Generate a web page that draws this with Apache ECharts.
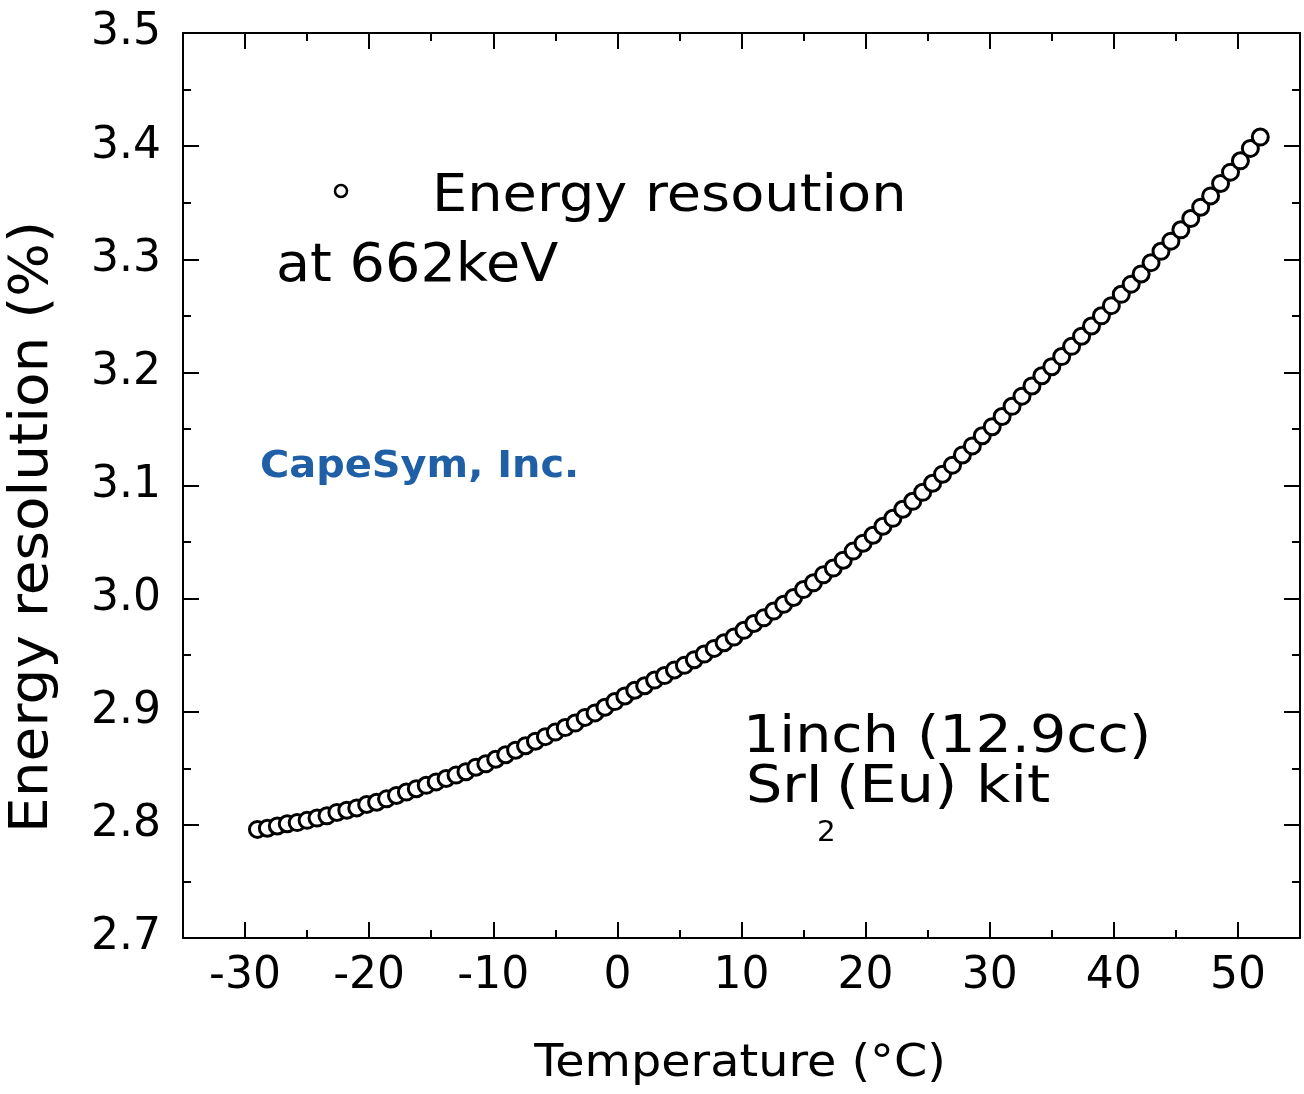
<!DOCTYPE html>
<html>
<head>
<meta charset="utf-8">
<script src="https://cdn.jsdelivr.net/npm/echarts@6/dist/echarts.min.js"></script>
<style>
  html, body { margin: 0; padding: 0; background: #fff; }
  #main { width: 1304px; height: 1094px; }
</style>
</head>
<body>
<div id="main"></div>
<script>
// temperature (degC) of each marker
var temps = [
  -29.0, -28.2, -27.4, -26.6, -25.8, -25.0, -24.2, -23.4, -22.6, -21.8,
  -21.0, -20.2, -19.4, -18.6, -17.8, -17.0, -16.2, -15.4, -14.6, -13.8,
  -13.0, -12.2, -11.4, -10.6, -9.8, -9.0, -8.2, -7.4, -6.6, -5.8,
  -5.0, -4.2, -3.4, -2.6, -1.8, -1.0, -0.2, 0.6, 1.4, 2.2,
  3.0, 3.8, 4.6, 5.4, 6.2, 7.0, 7.8, 8.6, 9.4, 10.2,
  11.0, 11.8, 12.6, 13.4, 14.2, 15.0, 15.8, 16.6, 17.4, 18.2,
  19.0, 19.8, 20.6, 21.4, 22.2, 23.0, 23.8, 24.6, 25.4, 26.2,
  27.0, 27.8, 28.6, 29.4, 30.2, 31.0, 31.8, 32.6, 33.4, 34.2,
  35.0, 35.8, 36.6, 37.4, 38.2, 39.0, 39.8, 40.6, 41.4, 42.2,
  43.0, 43.8, 44.6, 45.4, 46.2, 47.0, 47.8, 48.6, 49.4, 50.2,
  51.0, 51.8
];
// energy resolution (%) at 662keV
var resolution = [
  2.796, 2.797, 2.799, 2.801, 2.802, 2.804, 2.806, 2.808, 2.811, 2.813,
  2.815, 2.818, 2.820, 2.823, 2.826, 2.829, 2.832, 2.835, 2.838, 2.841,
  2.844, 2.847, 2.851, 2.854, 2.858, 2.862, 2.866, 2.870, 2.874, 2.878,
  2.882, 2.886, 2.890, 2.895, 2.899, 2.904, 2.909, 2.914, 2.919, 2.923,
  2.928, 2.932, 2.937, 2.941, 2.946, 2.951, 2.956, 2.961, 2.966, 2.972,
  2.978, 2.983, 2.989, 2.995, 3.001, 3.008, 3.014, 3.021, 3.027, 3.034,
  3.042, 3.049, 3.056, 3.064, 3.071, 3.079, 3.086, 3.094, 3.102, 3.110,
  3.118, 3.127, 3.135, 3.144, 3.152, 3.161, 3.170, 3.179, 3.188, 3.197,
  3.205, 3.214, 3.223, 3.232, 3.241, 3.250, 3.259, 3.269, 3.278, 3.287,
  3.297, 3.307, 3.316, 3.326, 3.336, 3.346, 3.356, 3.367, 3.377, 3.387,
  3.398, 3.408
];
var xMajor = [-30, -20, -10, 0, 10, 20, 30, 40, 50];
var xMinor = [-25, -15, -5, 5, 15, 25, 35, 45];

var FONT = 'DejaVu Sans';

var points = [];
for (var i = 0; i < temps.length; i++) {
    points.push([temps[i], resolution[i]]);
}

var myChart = echarts.init(document.getElementById('main'));

var lineStyle = { color: '#000', width: 2 };

function xAxisDef(pos, ticks, len, showLine, showLabel) {
    return {
        type: 'value',
        position: pos,
        min: -35,
        max: 55,
        axisLine: { show: showLine, onZero: false, lineStyle: lineStyle },
        axisTick: { show: true, inside: true, length: len, customValues: ticks, lineStyle: lineStyle },
        axisLabel: {
            show: showLabel,
            customValues: ticks,
            margin: 17,
            color: '#000',
            fontFamily: FONT,
            fontSize: 44
        },
        splitLine: { show: false }
    };
}

function yAxisDef(pos, showLabel) {
    return {
        type: 'value',
        position: pos,
        min: 2.7,
        max: 3.5,
        interval: 0.1,
        axisLine: { show: true, onZero: false, lineStyle: lineStyle },
        axisTick: { show: true, inside: true, length: 16, lineStyle: lineStyle },
        minorTick: { show: true, splitNumber: 2, length: 8, lineStyle: lineStyle },
        axisLabel: {
            show: showLabel,
            margin: 22,
            color: '#000',
            fontFamily: FONT,
            fontSize: 44,
            formatter: function (v) { return v.toFixed(1); }
        },
        splitLine: { show: false },
        minorSplitLine: { show: false }
    };
}

// text placed with graphic, stretched a bit sideways (reference font is wider)
function txt(x, y, text, size, sx, extra) {
    var st = {
        text: text,
        fontFamily: FONT,
        fontSize: size,
        fill: '#000',
        align: 'left',
        textAlign: 'left',
        verticalAlign: 'middle',
        textVerticalAlign: 'middle'
    };
    for (var k in extra) st[k] = extra[k];
    return { type: 'text', x: x, y: y, scaleX: sx, z: 100, style: st };
}

var option = {
    backgroundColor: '#fff',
    animation: false,
    grid: { left: 183, right: 4, top: 33, bottom: 156, containLabel: false },
    xAxis: [
        xAxisDef('bottom', xMajor, 16, true, true),
        xAxisDef('bottom', xMinor, 8, false, false),
        xAxisDef('top', xMajor, 16, true, false),
        xAxisDef('top', xMinor, 8, false, false)
    ],
    yAxis: [
        yAxisDef('left', true),
        yAxisDef('right', false)
    ],
    series: [
        {
            name: 'Energy resoution',
            type: 'scatter',
            xAxisIndex: 0,
            yAxisIndex: 0,
            symbol: 'circle',
            symbolSize: 16,
            itemStyle: { color: '#fff', borderColor: '#000', borderWidth: 3, opacity: 1 },
            data: points
        }
    ],
    graphic: [
        // y axis title
        {
            type: 'text', x: 33, y: 527, rotation: Math.PI / 2, scaleX: 1.066, z: 100,
            style: {
                text: 'Energy resolution (%)', fontFamily: FONT, fontSize: 53, fill: '#000',
                align: 'center', textAlign: 'center', verticalAlign: 'middle', textVerticalAlign: 'middle'
            }
        },
        // x axis title
        txt(740, 1064, 'Temperature (°C)', 45, 1.06, { align: 'center', textAlign: 'center' }),
        // legend
        {
            type: 'circle', z: 100,
            shape: { cx: 341, cy: 191, r: 6 },
            style: { fill: '#fff', stroke: '#000', lineWidth: 2.5 }
        },
        txt(432, 197, 'Energy resoution', 52, 1.073),
        txt(276, 267, 'at 662keV', 53, 1.05),
        txt(260, 467, 'CapeSym, Inc.', 38, 1.05, { fontWeight: 'bold', fill: '#1f5fa6' }),
        txt(743, 738, '1inch (12.9cc)', 52, 1.097),
        txt(746, 788, 'SrI', 52, 1.1),
        txt(817, 834, '2', 28, 1.05),
        txt(836, 788, '(Eu) kit', 52, 1.14)
    ]
};

myChart.setOption(option);
</script>
</body>
</html>
